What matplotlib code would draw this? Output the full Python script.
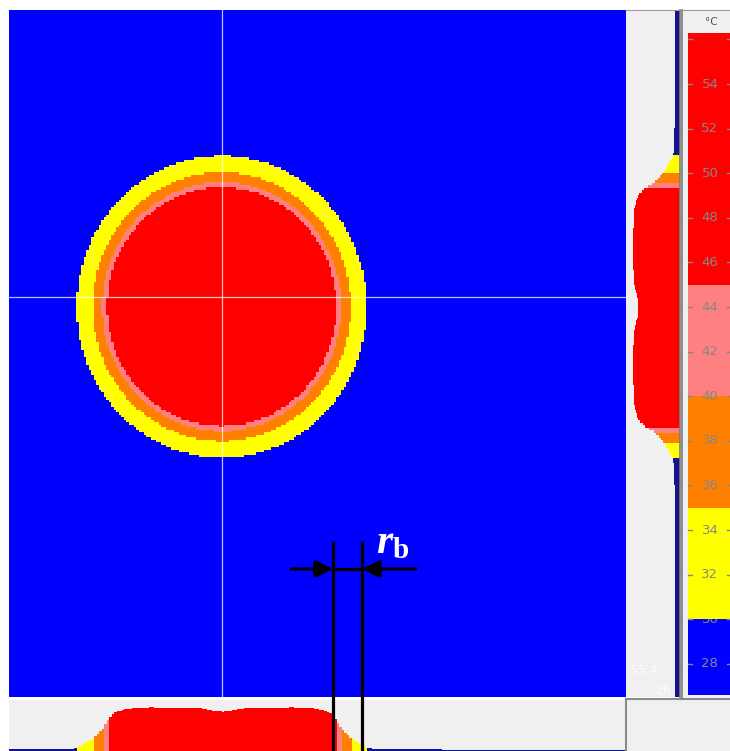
import numpy as np
import matplotlib.pyplot as plt
import matplotlib.transforms as mtransforms
from matplotlib.colors import ListedColormap, BoundaryNorm

plt.rcParams['mathtext.fontset'] = 'custom'
plt.rcParams['mathtext.it'] = 'Liberation Serif:italic:bold'
plt.rcParams['mathtext.bf'] = 'Liberation Serif:bold'
plt.rcParams['mathtext.rm'] = 'Liberation Serif:bold'

# palette of the thermal camera: colour bands (degC)
band_edges = [30, 35, 40, 45]
band_colors = ['#0000ff', '#ffff00', '#ff8000', '#ff8080', '#ff0000']
profile_blue = '#14148c'

# radial temperature profile of the hot spot
r_pts = [0.0, 0.06, 0.13, 0.2, 0.5, 0.65, 0.74, 0.79, 0.825, 0.89, 1.0, 1.03, 1.15, 3.0]
t_pts = [48.6, 49.0, 50.5, 51.3, 51.4, 50.8, 49.0, 45.0, 40.0, 35.0, 30.0, 29.4, 29.0, 28.7]

# image geometry (screen pixels of the thermogram)
img_w, img_h = 617, 687
spot_cx, spot_cy = 213, 297
spot_rx, spot_ry = 145, 151
cross_x, cross_y = 213, 287
sensor_step = 2.5

# scales
cb_ticks = list(range(28, 56, 2))
cb_dash = list(range(28, 58, 2))
cb_lo, cb_hi = 26.6, 56.3
prof_min, prof_max = 26.0, 55.4

W, H = 730, 751
fig = plt.figure(figsize=(W / 100, H / 100), dpi=100)
fig.patch.set_facecolor('white')


def px_axes(x0, y0, x1, y1):
    return fig.add_axes([x0 / W, 1 - y1 / H, (x1 - x0) / W, (y1 - y0) / H])


# temperature field on the sensor grid
xs = np.arange(0, img_w, sensor_step) + sensor_step / 2
ys = np.arange(0, img_h, sensor_step) + sensor_step / 2
gx, gy = np.meshgrid(xs, ys)
rr = np.sqrt(((gx - spot_cx) / spot_rx) ** 2 + ((gy - spot_cy) / spot_ry) ** 2)
field = np.interp(rr, r_pts, t_pts)

cmap = ListedColormap(band_colors)
norm = BoundaryNorm([0] + band_edges + [100], cmap.N)


def band_color(t, blue=profile_blue):
    i = np.searchsorted(band_edges, t)
    return blue if i == 0 else band_colors[i]


# main image
ax = px_axes(9, 10, 626, 697)
ax.imshow(field, cmap=cmap, norm=norm, interpolation='nearest',
          extent=(0, len(xs) * sensor_step, len(ys) * sensor_step, 0))
ax.set_xlim(0, img_w)
ax.set_ylim(img_h, 0)
ax.axvline(cross_x, color='white', alpha=0.75, lw=0.9)
ax.axhline(cross_y, color='white', alpha=0.75, lw=0.9)
ax.axis('off')

# vertical profile (right)
ix = int(cross_x // sensor_step)
col = field[:, ix]
axr = px_axes(626, 10, 680, 697)
axr.set_facecolor('#f0f0f0')
axr.barh(ys, col - prof_min, left=prof_min, height=sensor_step,
         color=[band_color(t) for t in col], linewidth=0)
axr.set_xlim(prof_max, prof_min)
axr.set_ylim(img_h, 0)
axr.set_xticks([])
axr.set_yticks([])
for s in ['left', 'bottom']:
    axr.spines[s].set_visible(False)
axr.spines['right'].set_color('#7a7a7a')
axr.spines['right'].set_linewidth(1.2)
axr.spines['top'].set_color('#9a9a9a')

# horizontal profile (bottom)
iy = int(cross_y // sensor_step)
row = field[iy, :]
axb = px_axes(9, 700, 626, 755)
axb.set_facecolor('#f0f0f0')
axb.bar(xs, row - prof_min, bottom=prof_min, width=sensor_step,
        color=[band_color(t) for t in row], linewidth=0)
axb.set_xlim(0, img_w)
axb.set_ylim(prof_min, prof_max)
axb.set_xticks([])
axb.set_yticks([])
for s in axb.spines.values():
    s.set_visible(False)

# empty box bottom right
axe = px_axes(626, 699, 731, 752)
axe.set_facecolor('#f0f0f0')
axe.set_xticks([])
axe.set_yticks([])
for s in ['right', 'bottom']:
    axe.spines[s].set_visible(False)
for s in ['top', 'left']:
    axe.spines[s].set_color('#8a8a8a')
    axe.spines[s].set_linewidth(1.5)

# colour bar panel
axc = px_axes(682, 10, 731, 698)
axc.set_facecolor('#f0f0f0')
axc.set_ylim(54 - (698 - 84) / 22.3, 54 - (10 - 84) / 22.3)
axc.set_xlim(0, 1)
axc.set_xticks([])
axc.set_yticks([])
for s in ['right', 'bottom']:
    axc.spines[s].set_visible(False)
axc.spines['left'].set_color('#7a7a7a')
axc.spines['left'].set_linewidth(1.2)
axc.spines['top'].set_color('#9a9a9a')
edges = [cb_lo] + band_edges + [cb_hi]
x0 = 6 / 49
for i, c in enumerate(band_colors):
    axc.axhspan(edges[i], edges[i + 1], xmin=x0, xmax=1, color=c, lw=0,
                zorder=3 if i == 1 else 1)
tr = mtransforms.blended_transform_factory(axc.transAxes, axc.transData)
tick_col = '#878787'
for t in cb_dash:
    axc.plot([x0, x0 + 0.09], [t, t], color=tick_col, lw=1, transform=tr, zorder=4)
    axc.plot([0.91, 0.99], [t, t], color=tick_col, lw=1, transform=tr, zorder=4)
for t in cb_ticks:
    axc.text(0.57, t, str(t), transform=tr, ha='center', va='center',
             fontsize=9.5, color=tick_col, zorder=2 if t == band_edges[0] else 4)
axc.text(0.6, 1 - 7 / 688, '°C', transform=axc.transAxes, ha='center', va='top',
         fontsize=7.5, color='#505050')

# overlay in figure pixels for the annotation
ov = fig.add_axes([0, 0, 1, 1])
ov.set_xlim(0, W)
ov.set_ylim(H, 0)
ov.axis('off')
ov.patch.set_alpha(0)
ov.text(630, 671, '55.4', color='white', fontsize=9, va='center', ha='left', alpha=0.85)
ov.text(671, 690, '26', color='white', fontsize=9, va='center', ha='right', alpha=0.85)

rb_left, rb_right, rb_top, rb_y = 333, 362, 541, 569
for xv in (rb_left, rb_right):
    ov.plot([xv, xv], [rb_top, H + 5], color='black', lw=2.3, solid_capstyle='butt')
ov.plot([rb_left, rb_right], [rb_y, rb_y], color='black', lw=2.3)
arr = dict(arrowstyle='-|>', color='black', lw=2.3, mutation_scale=26,
           shrinkA=0, shrinkB=0)
ov.annotate('', xy=(rb_left, rb_y), xytext=(291, rb_y), arrowprops=arr)
ov.annotate('', xy=(rb_right, rb_y), xytext=(416, rb_y), arrowprops=arr)
ov.text(376, 553, r'$\mathit{r}_{\mathbf{b}}$', color='white', fontsize=30,
        ha='left', va='baseline')

fig.savefig('out.png', dpi=100)
